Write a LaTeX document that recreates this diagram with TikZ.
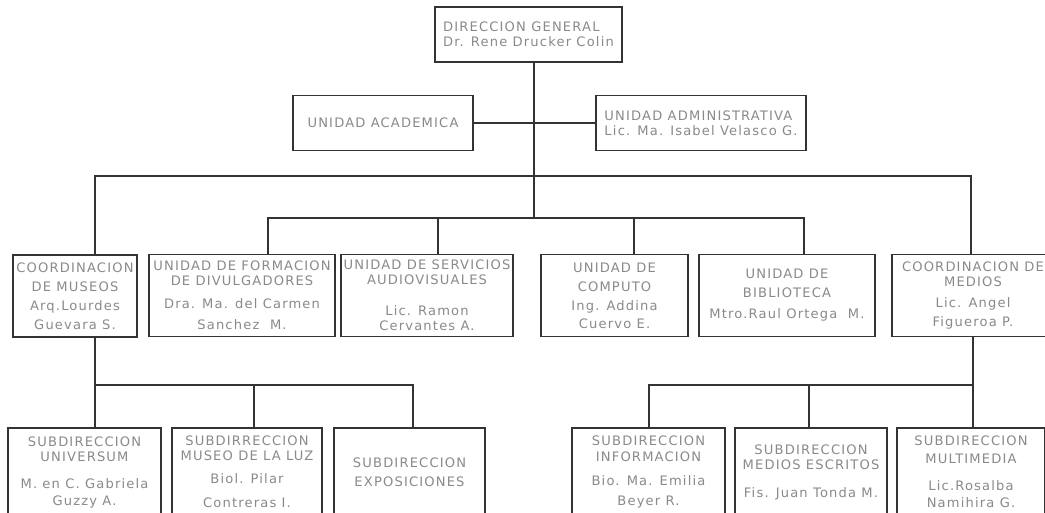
\documentclass[tikz,border=0pt]{standalone}
\usepackage{fontspec}
\usepackage{xcolor}
\usepackage{tikz}
\usetikzlibrary{positioning,calc}
\newfontfamily\orgfont[LetterSpace=9]{DejaVu Sans}
\definecolor{orgtext}{HTML}{8A8A8A}
\definecolor{orgline}{HTML}{333333}

\begin{document}
\begin{tikzpicture}[
    x=0.75pt, y=-0.75pt,
    box/.style={draw=orgline, line width=1pt, fill=white, inner sep=0pt, align=center,
        text=orgtext, font=\orgfont\fontsize{9.8}{11.25}\selectfont},
    topbox/.style={box, minimum height=41.25pt},
    midbox/.style={box, minimum height=61.5pt},
    lowbox/.style={box, minimum height=66pt},
    link/.style={draw=orgline, line width=1pt},
]
    \useasboundingbox (0,0) rectangle (1045,512);
    \clip (0,0) rectangle (1045,512);

    % direccion y unidades de apoyo
    \node[topbox, minimum width=140.25pt, align=left] (dg) at (528.5,34.5) {DIRECCION GENERAL\\Dr. Rene Drucker Colin};
    \node[topbox, minimum width=135pt] (acad) at (383,123) {UNIDAD ACADEMICA};
    \node[topbox, minimum width=157.5pt, align=left] (admin) at (701,123) {UNIDAD ADMINISTRATIVA\\Lic. Ma. Isabel Velasco G.};

    % coordinaciones y unidades
    \node[midbox, minimum width=93pt] (museos) at (75,296) {COORDINACION\\[3pt]DE MUSEOS\\[3pt]Arq.Lourdes\\[3pt]Guevara S.};
    \node[midbox, minimum width=139.5pt] (formacion) at (242,295.5) {UNIDAD DE FORMACION\\DE DIVULGADORES\\[6pt]Dra. Ma. del Carmen\\[4.5pt]Sanchez~~M.};
    \node[midbox, minimum width=129pt] (audiov) at (427,295.5) {UNIDAD DE SERVICIOS\\AUDIOVISUALES\\[12pt]Lic. Ramon\\Cervantes A.};
    \node[midbox, minimum width=110.25pt] (computo) at (614.5,295.5) {UNIDAD DE\\[3pt]COMPUTO\\[3pt]Ing. Addina\\[2pt]Cuervo E.};
    \node[midbox, minimum width=132pt] (biblio) at (787,295.5) {UNIDAD DE\\[2.5pt]BIBLIOTECA\\[5pt]Mtro.Raul Ortega~~M.};
    \node[midbox, minimum width=121.5pt] (medios) at (973,295.5) {COORDINACION DE\\MEDIOS\\[5pt]Lic. Angel\\[3pt]Figueroa P.};

    % subdirecciones
    \node[lowbox, minimum width=114.75pt] (universum) at (84.5,472) {SUBDIRECCION\\UNIVERSUM\\[9pt]M. en C. Gabriela\\[1.5pt]Guzzy A.};
    \node[lowbox, minimum width=112.5pt] (luz) at (247,472) {SUBDIRRECCION\\MUSEO DE LA LUZ\\[6pt]Biol. Pilar\\[6.75pt]Contreras I.};
    \node[lowbox, minimum width=113.25pt] (expos) at (409.5,472) {SUBDIRECCION\\[3pt]EXPOSICIONES};
    \node[lowbox, minimum width=114.75pt] (info) at (648.5,472) {SUBDIRECCION\\[0.75pt]INFORMACION\\[6.75pt]Bio. Ma. Emilia\\[3.75pt]Beyer R.};
    \node[lowbox, minimum width=114pt] (escritos) at (811,472) {SUBDIRECCION\\MEDIOS ESCRITOS\\[9.75pt]Fis. Juan Tonda M.};
    \node[lowbox, minimum width=111pt] (multimedia) at (971,472) {SUBDIRECCION\\[2.25pt]MULTIMEDIA\\[9pt]Lic.Rosalba\\[1.5pt]Namihira G.};

    % puntos de los buses
    \coordinate (trunk) at (534,218);
    \coordinate (b1w) at (95,176);
    \coordinate (b1e) at (971,176);
    \coordinate (b2w) at (268,218);
    \coordinate (b2e) at (804,218);
    \coordinate (d1) at (438,218);
    \coordinate (d2) at (634,218);
    \coordinate (b3w) at (95,385);
    \coordinate (b3e) at (413,385);
    \coordinate (d3) at (254,385);
    \coordinate (b4w) at (649,385);
    \coordinate (b4e) at (973,385);
    \coordinate (d4) at (809,385);

    \draw[link] (dg.south -| trunk) -- (trunk);
    \draw[link] (acad) -- (admin);
    \draw[link] (museos.north -| b1w) -- (b1w) -- (b1e) -- (medios.north -| b1e);
    \draw[link] (formacion.north -| b2w) -- (b2w) -- (b2e) -- (biblio.north -| b2e);
    \draw[link] (d1) -- (audiov.north -| d1);
    \draw[link] (d2) -- (computo.north -| d2);
    \draw[link] (museos.south -| b3w) -- (universum.north -| b3w);
    \draw[link] (b3w) -- (b3e) -- (expos.north -| b3e);
    \draw[link] (d3) -- (luz.north -| d3);
    \draw[link] (medios.south -| b4e) -- (multimedia.north -| b4e);
    \draw[link] (b4e) -- (b4w) -- (info.north -| b4w);
    \draw[link] (d4) -- (escritos.north -| d4);
\end{tikzpicture}
\end{document}
